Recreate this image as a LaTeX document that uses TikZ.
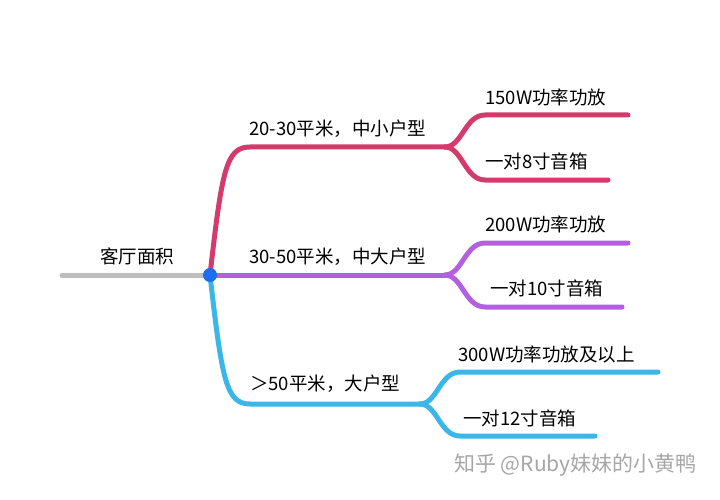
\documentclass[tikz,border=0pt]{standalone}
\usepackage{fontspec}
\setmainfont{Noto Sans CJK SC}
\usetikzlibrary{positioning}
\definecolor{rosered}{RGB}{212,58,108}
\definecolor{violet}{RGB}{180,94,226}
\definecolor{skyblue}{RGB}{58,182,232}
\definecolor{rootgray}{RGB}{190,190,190}
\definecolor{dotblue}{RGB}{28,110,240}

\begin{document}
\begin{tikzpicture}[x=1pt,y=-1pt,
  branch/.style={line width=5pt,line cap=round},
  lbl/.style={font=\fontsize{18.5}{18.5}\selectfont,inner sep=0pt,anchor=west}]
  \useasboundingbox (0,0) rectangle (720,500);
  % anchors of the map
  \coordinate (start) at (62,275);
  \coordinate (root) at (210,275);
  \coordinate (forkA) at (445,147);
  \coordinate (forkB) at (445,275);
  \coordinate (forkC) at (420,404);
  \coordinate (endA1) at (628,115);
  \coordinate (endA2) at (608,180);
  \coordinate (endB1) at (628,243);
  \coordinate (endB2) at (622,307);
  \coordinate (endC1) at (658,372);
  \coordinate (endC2) at (595,436);
  % root
  \draw[branch,rootgray] (start) -- (root);
  \node[lbl] (area) at (100,256) {客厅面积};
  % first branch
  \draw[branch,rosered] (root) .. controls (222,170) and (226,147) .. (250,147) -- (forkA);
  \draw[branch,rosered] (forkA) .. controls (462,147) and (465,115) .. (485,115) -- (endA1);
  \draw[branch,rosered] (forkA) .. controls (462,147) and (465,180) .. (485,180) -- (endA2);
  \node[lbl] (small) at (249,129) {20-30平米，中小户型};
  \node[lbl] (amp150) at (485,97) {150W功率功放};
  \node[lbl] (spk8) at (485,161) {一对8寸音箱};
  % second branch
  \draw[branch,violet] (root) -- (forkB);
  \draw[branch,violet] (forkB) .. controls (462,275) and (465,243) .. (485,243) -- (endB1);
  \draw[branch,violet] (forkB) .. controls (462,275) and (465,307) .. (485,307) -- (endB2);
  \node[lbl] (medium) at (249,257) {30-50平米，中大户型};
  \node[lbl] (amp200) at (485,224) {200W功率功放};
  \node[lbl] (spk10) at (490,288) {一对10寸音箱};
  % third branch
  \draw[branch,skyblue] (root) .. controls (222,380) and (226,404) .. (250,404) -- (forkC);
  \draw[branch,skyblue] (forkC) .. controls (437,404) and (440,372) .. (460,372) -- (endC1);
  \draw[branch,skyblue] (forkC) .. controls (437,404) and (440,436) .. (460,436) -- (endC2);
  \node[lbl] (large) at (250,384) {＞50平米，大户型};
  \node[lbl] (amp300) at (458,354) {300W功率功放及以上};
  \node[lbl] (spk12) at (463,418) {一对12寸音箱};
  % centre dot
  \fill[dotblue] (root) circle (7);
  % watermark
  \node[lbl,font=\fontsize{21}{21}\selectfont,text=black!35] (mark) at (454,465) {知乎 @Ruby妹妹的小黄鸭};
\end{tikzpicture}
\end{document}
